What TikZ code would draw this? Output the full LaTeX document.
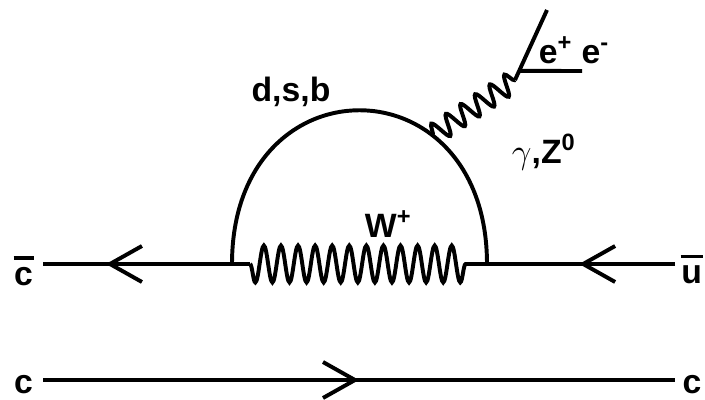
\documentclass[tikz,border=0pt]{standalone}
\usepackage{fontspec}
\setmainfont{Liberation Sans}
\usepackage{tikz}
\usetikzlibrary{arrows.meta,calc,decorations.pathmorphing,decorations.markings}

% bar over a quark letter
\newcommand{\qbar}[1]{\vbox{\hrule height 2.4pt\kern 5pt\hbox{\kern0.5pt#1\kern0.5pt}}}

\begin{document}
\begin{tikzpicture}[
      font=\fontsize{24}{28}\selectfont\bfseries,
      line width=2.8pt,
      farrow/.style={postaction={decorate}, decoration={markings,
          mark=at position #1 with {\arrow{Straight Barb[length=8mm, width=9mm]}}}},
      wboson/.style={decorate, decoration={snake, mirror, amplitude=4.6mm, segment length=4.27mm}},
      photon/.style={decorate, decoration={snake, amplitude=2.6mm, segment length=4.4mm}},
      lbl/.style={anchor=base, inner sep=0pt},
      lblw/.style={anchor=base west, inner sep=0pt},
    ]
    \useasboundingbox (0,0) rectangle (17.625,9.975);

    % ---------- vertices ----------
    \coordinate (lin) at (1.075,3.375);
    \coordinate (v1)  at (5.8,3.375);
    \coordinate (w1)  at (6.25,3.375);
    \coordinate (w2)  at (11.8,3.375);
    \coordinate (v2)  at (12.175,3.375);
    \coordinate (rin) at (16.875,3.375);
    \coordinate (lout) at (1.075,0.475);
    \coordinate (rout) at (16.875,0.475);
    \coordinate (p1)  at (12.875,7.975);
    \coordinate (e1)  at (13.675,9.725);
    \coordinate (e2)  at ($(p1)!0.13!(e1)$);
    \coordinate (e3)  at (14.55,8.2);

    % ---------- labels ----------
    \node[lbl] (cbar) at (0.59,2.85)  {\qbar{c}};
    \node[lbl] (ubar) at (17.29,2.9)  {\qbar{u}};
    \node[lbl] (cl)   at (0.59,0.15)  {c};
    \node[lbl] (cr)   at (17.3,0.15)  {c};
    \node[lbl] (dsb)  at (7.275,7.43) {d,s,b};
    \node[lblw] (lep) at (13.425,8.4) {e\textsuperscript{+} e\textsuperscript{-}};
    \node[lblw] (gz)  at (12.75,5.9)  {$\gamma$,Z\textsuperscript{0}};
    \node[lblw] (wlab) at (9.075,4.05) {W\textsuperscript{+}};

    % ---------- quark lines ----------
    \draw[farrow=0.667] (v1) -- (lin);
    \draw[farrow=0.51]  (rin) -- (v2);
    \draw[farrow=0.5]   (lout) -- (rout);

    % ---------- loop ----------
    \draw (v1) .. controls (5.8,8.5) and (12.175,8.5) .. (v2) coordinate[pos=0.702] (v3);
    \draw (v1) -- (w1);
    \draw[wboson] (w1) -- (w2);
    \draw (w2) -- (v2);

    % ---------- photon and lepton pair ----------
    \draw[photon] (v3) -- (p1);
    \draw (p1) -- (e1);
    \draw (e2) -- (e3);

  \end{tikzpicture}
\end{document}
